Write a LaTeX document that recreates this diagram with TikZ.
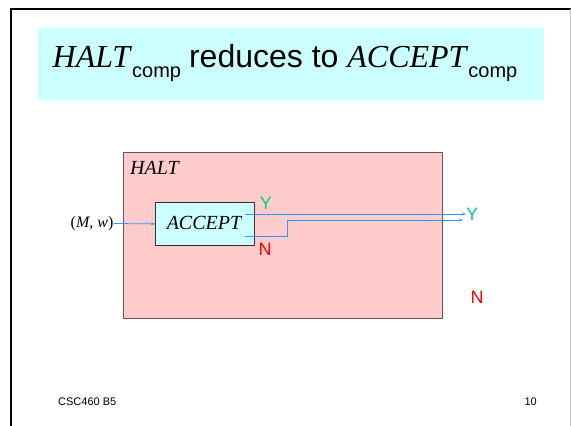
\documentclass[tikz,border=0pt]{standalone}
\usepackage{fontspec}
\setmainfont{Liberation Serif}
\setsansfont{Liberation Sans}
\usetikzlibrary{arrows.meta}
\definecolor{titlecyan}{RGB}{204,255,255}
\definecolor{haltpink}{RGB}{255,204,204}
\definecolor{haltedge}{RGB}{102,85,85}
\definecolor{acceptcyan}{RGB}{204,255,255}
\definecolor{flowblue}{RGB}{51,153,255}
\definecolor{yesgreen}{RGB}{0,204,136}
\definecolor{nored}{RGB}{255,0,0}

\begin{document}
\begin{tikzpicture}[x=1pt, y=-1pt,
  flow/.style={flowblue, line width=0.8pt, -{Stealth[length=4pt, width=3pt]}},
  boxlabel/.style={font=\fontsize{20}{22}\selectfont\itshape, inner sep=0pt},
  answer/.style={font=\fontsize{18}{20}\selectfont\sffamily, inner sep=0pt}]
\useasboundingbox (0,0) rectangle (571,426);

% 1. SLIDE FRAME & TITLE
\draw[black, line width=2pt] (11,426) -- (11,9) -- (571,9);
\draw[black!25, line width=0.8pt] (570,9) -- (570,426);
\fill[titlecyan] (38,28) rectangle (544,100);
\node[inner sep=0pt, font=\fontsize{32}{34}\selectfont] (title) at (285,63)
  {\textit{HALT}\raisebox{-0.3em}{\sffamily\fontsize{20}{22}\selectfont comp}
   \sffamily reduces to \rmfamily\textit{ACCEPT}\raisebox{-0.3em}{\sffamily\fontsize{20}{22}\selectfont comp}};

% 2. HALT MACHINE
\node[draw=haltedge, fill=haltpink, line width=1pt, minimum width=319pt, minimum height=166pt,
  anchor=north west, inner sep=0pt] (halt) at (123,152) {};
\node[boxlabel, anchor=west] (haltname) at (130,168) {HALT};

% 3. ACCEPT MACHINE INSIDE
\node[draw=black!80, fill=acceptcyan, line width=0.8pt, minimum width=99pt, minimum height=43pt,
  anchor=north west, inner sep=0pt] (accept) at (155,202) {};
\node[boxlabel] (acceptname) at (204,223) {ACCEPT};

% Input
\node[font=\fontsize{16}{18}\selectfont, inner sep=0pt] (input) at (92,223.5) {(\textit{M}, \textit{w})};
\draw[flow] (input.east) -- (accept.west);

% Answers of ACCEPT
\node[answer, text=yesgreen] (accy) at (266,203) {Y};
\node[answer, text=nored] (accn) at (265,249) {N};

% Outputs of HALT
\coordinate (yfrom) at (245,214);
\coordinate (nfrom) at (245,236);
\coordinate (nend) at (463,220);
\node[answer, text=yesgreen, anchor=west] (halty) at (466,214) {Y};
\node[answer, text=nored] (haltn) at (477,297) {N};
\draw[flow] (yfrom) -- (halty.west);
\draw[flow] (nfrom) -| (287,220) -- (nend);

% 4. FOOTER
\node[font=\fontsize{11}{12}\selectfont\sffamily, anchor=west, inner sep=0pt] (course) at (58,402) {CSC460 B5};
\node[font=\fontsize{11}{12}\selectfont\sffamily, anchor=east, inner sep=0pt] (page) at (537,402) {10};

\end{tikzpicture}
\end{document}
